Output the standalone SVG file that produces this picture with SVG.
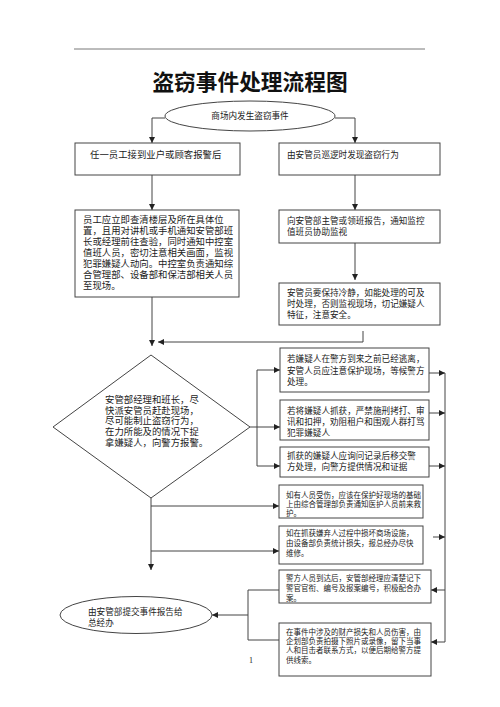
<svg xmlns="http://www.w3.org/2000/svg" width="500" height="707" viewBox="0 0 500 707">
<style>
text{font-family:"Liberation Serif","Noto Sans CJK SC",serif;fill:#222}
.box{fill:#fff;stroke:#444;stroke-width:1}
.c{fill:none;stroke:#444;stroke-width:1}
.t9{font-size:9.4px}
.t8{font-size:8.6px}
.t7{font-size:7.5px}
</style>
<defs>
<marker id="ar" viewBox="0 0 6 6" refX="6" refY="3" markerWidth="6" markerHeight="6" markerUnits="userSpaceOnUse" orient="auto">
<path d="M0,0 L6,3 L0,6 Z" fill="#222"/>
</marker>
</defs>
<rect width="500" height="707" fill="#fff"/>
<line x1="74" y1="49" x2="425" y2="49" stroke="#555" stroke-width="0.8"/>
<text x="250" y="90" text-anchor="middle" style="font-size:21.7px;font-weight:bold;fill:#111">盗窃事件处理流程图</text>

<g id="connectors">
<path class="c" d="M165,118 H152 V143" marker-end="url(#ar)"/>
<path class="c" d="M335,118 H355 V143" marker-end="url(#ar)"/>
<path class="c" d="M152,175 V210" marker-end="url(#ar)"/>
<path class="c" d="M355,175 V210" marker-end="url(#ar)"/>
<path class="c" d="M355,243 V280" marker-end="url(#ar)"/>
<path class="c" d="M152,297 V346" marker-end="url(#ar)"/>
<path class="c" d="M363,331 V342 H158" marker-end="url(#ar)"/>
<path class="c" d="M250,427 H257"/>
<path class="c" d="M257,370 V466"/>
<path class="c" d="M257,370 H280" marker-end="url(#ar)"/>
<path class="c" d="M257,427 H280" marker-end="url(#ar)"/>
<path class="c" d="M257,466 H280" marker-end="url(#ar)"/>
<path class="c" d="M151,498 V570" marker-end="url(#ar)"/>
<path class="c" d="M151,506 H279" marker-end="url(#ar)"/>
<path class="c" d="M151,551 H279" marker-end="url(#ar)"/>
<path class="c" d="M445,373 V642"/>
<path class="c" d="M429,373 H445" marker-end="url(#ar)"/>
<path class="c" d="M429,413 H445" marker-end="url(#ar)"/>
<path class="c" d="M429,466 H445" marker-end="url(#ar)"/>
<path class="c" d="M433,537 H445" marker-end="url(#ar)"/>
<path class="c" d="M445,590 H431" marker-end="url(#ar)"/>
<path class="c" d="M445,642 H431" marker-end="url(#ar)"/>
<path class="c" d="M279,590 H248 V640 H279"/>
<path class="c" d="M248,615 H212" marker-end="url(#ar)"/>
</g>

<g id="start">
<ellipse class="box" cx="250" cy="116" rx="85" ry="15"/>
<text class="t8" x="250" y="119" text-anchor="middle">商场内发生盗窃事件</text>
</g>

<g id="l1">
<rect class="box" x="75" y="143" width="165" height="32"/>
<text class="t9" x="90" y="158">任一员工接到业户或顾客报警后</text>
</g>

<g id="l2">
<rect class="box" x="75" y="210" width="164" height="87"/>
<text class="t9" x="83" y="222.5">员工应立即查清楼层及所在具体位</text>
<text class="t9" x="83" y="233.5">置，且用对讲机或手机通知安管部班</text>
<text class="t9" x="83" y="244.5">长或经理前往查验，同时通知中控室</text>
<text class="t9" x="83" y="255.5">值班人员，密切注意相关画面，监视</text>
<text class="t9" x="83" y="266.5">犯罪嫌疑人动向。中控室负责通知综</text>
<text class="t9" x="83" y="277.5">合管理部、设备部和保洁部相关人员</text>
<text class="t9" x="83" y="288.5">至现场。</text>
</g>

<g id="ra">
<rect class="box" x="279" y="143" width="161" height="32"/>
<text class="t8" x="287" y="158">由安管员巡逻时发现盗窃行为</text>
</g>

<g id="rb">
<rect class="box" x="279" y="210" width="161" height="33"/>
<text class="t8" x="287" y="224">向安管部主管或领班报告，通知监控</text>
<text class="t8" x="287" y="235">值班员协助监视</text>
</g>

<g id="rc">
<rect class="box" x="279" y="283" width="161" height="42"/>
<text class="t8" x="287" y="296">安管员要保持冷静，如能处理的可及</text>
<text class="t8" x="287" y="307">时处理，否则监视现场，切记嫌疑人</text>
<text class="t8" x="287" y="318">特征，注意安全。</text>
</g>

<g id="diamond">
<polygon class="box" points="151,355 250,427 151,498 53,427"/>
<text class="t9" x="105" y="402.5">安管部经理和班长，尽</text>
<text class="t9" x="105" y="413.5">快派安管员赶赴现场，</text>
<text class="t9" x="105" y="424">尽可能制止盗窃行为，</text>
<text class="t9" x="105" y="434.5">在力所能及的情况下捉</text>
<text class="t9" x="105" y="445.5">拿嫌疑人，向警方报警。</text>
</g>

<g id="r1">
<rect class="box" x="280" y="348" width="149" height="44"/>
<text class="t8" x="287" y="362">若嫌疑人在警方到来之前已经逃离，</text>
<text class="t8" x="287" y="374">安管人员应注意保护现场，等候警方</text>
<text class="t8" x="287" y="385">处理。</text>
</g>

<g id="r2">
<rect class="box" x="280" y="400" width="149" height="40"/>
<text class="t8" x="287" y="414">若将嫌疑人抓获，严禁施刑拷打、审</text>
<text class="t8" x="287" y="425">讯和扣押，劝阻租户和围观人群打骂</text>
<text class="t8" x="287" y="436">犯罪嫌疑人</text>
</g>

<g id="r3">
<rect class="box" x="280" y="447" width="149" height="30"/>
<text class="t8" x="287" y="459">抓获的嫌疑人应询问记录后移交警</text>
<text class="t8" x="287" y="470">方处理，向警方提供情况和证据</text>
</g>

<g id="r4">
<rect class="box" x="279" y="485" width="144" height="33"/>
<text class="t7" x="286" y="497.5">如有人员受伤，应该在保护好现场的基础</text>
<text class="t7" x="286" y="506.5">上由综合管理部负责通知医护人员前来救</text>
<text class="t7" x="286" y="515.5">护。</text>
</g>

<g id="r5">
<rect class="box" x="279" y="526" width="144" height="38"/>
<text class="t7" x="286" y="535.5">如在抓获嫌弃人过程中损坏商场设施，</text>
<text class="t7" x="286" y="545.5">由设备部负责统计损失，报总经办尽快</text>
<text class="t7" x="286" y="555.5">维修。</text>
</g>

<g id="r6">
<rect class="box" x="279" y="570" width="152" height="33"/>
<text class="t7" x="286" y="581">警方人员到达后，安管部经理应清楚记下</text>
<text class="t7" x="286" y="591">警官官衔、编号及报案编号，积极配合办</text>
<text class="t7" x="286" y="601">案。</text>
</g>

<g id="r7">
<rect class="box" x="279" y="623" width="152" height="53"/>
<text class="t7" x="286" y="635">在事件中涉及的财产损失和人员伤害，由</text>
<text class="t7" x="286" y="644">企划部负责拍摄下照片或录像，留下当事</text>
<text class="t7" x="286" y="653">人和目击者联系方式，以便后期给警方提</text>
<text class="t7" x="286" y="663">供线索。</text>
</g>

<g id="end">
<ellipse class="box" cx="136" cy="615" rx="76" ry="18.5"/>
<text class="t8" x="88" y="615">由安管部提交事件报告给</text>
<text class="t8" x="88" y="626">总经办</text>
</g>

<text x="249" y="663" style="font-size:8px">1</text>
</svg>
